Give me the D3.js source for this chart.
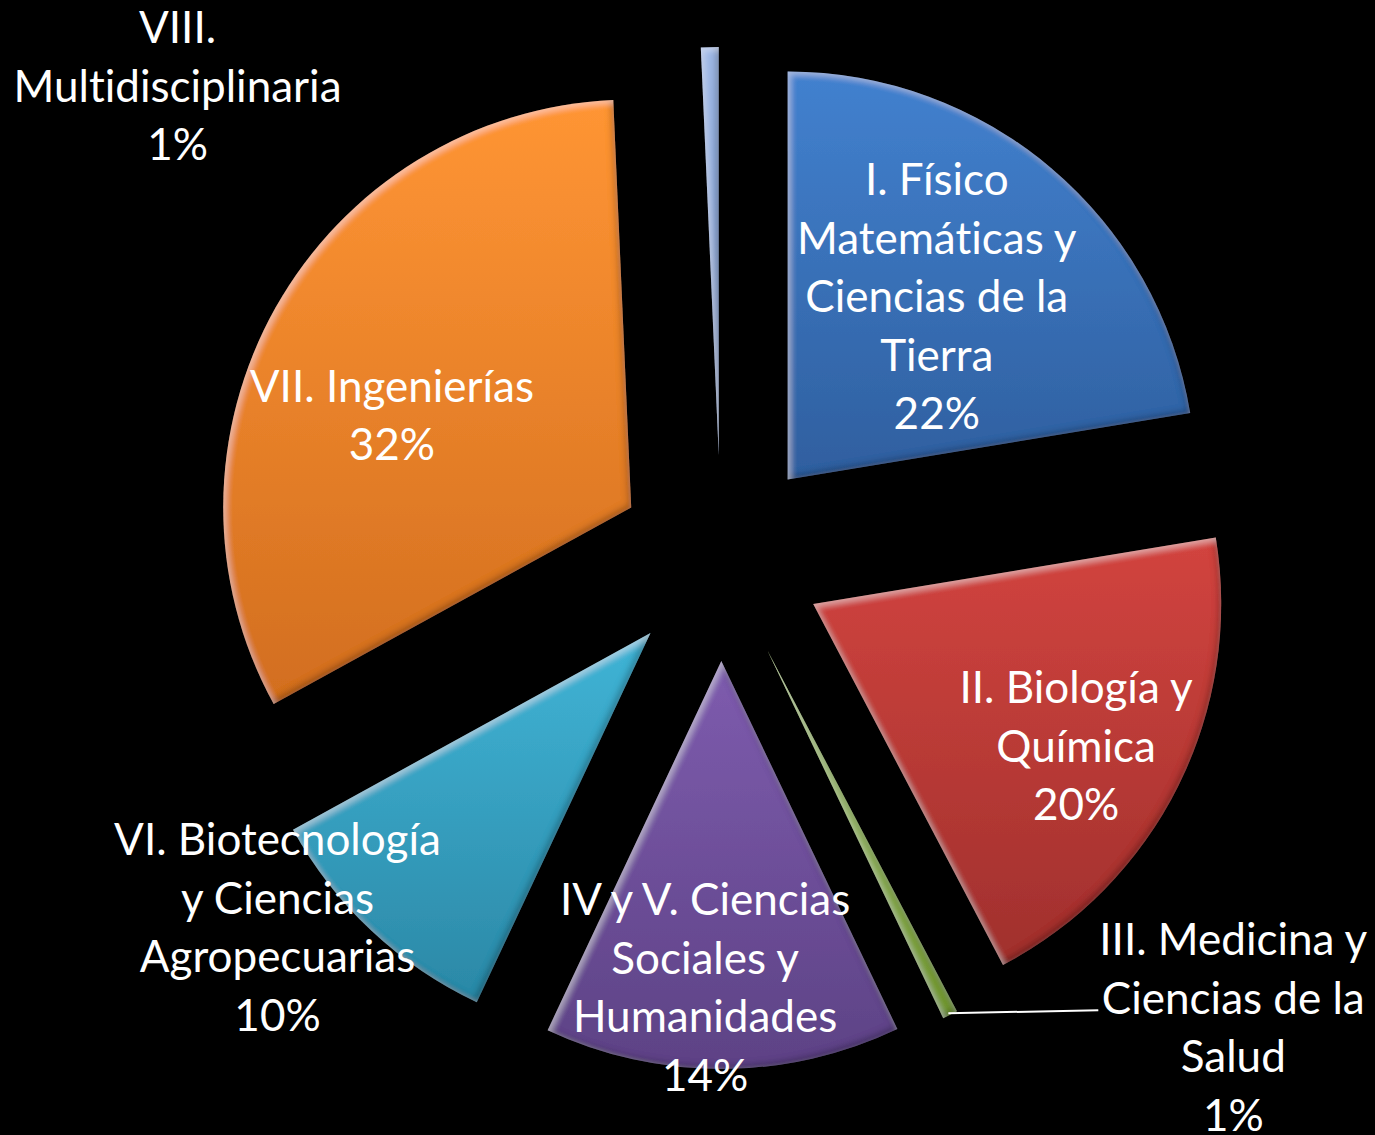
<!DOCTYPE html>
<html lang="es">
<head>
<meta charset="UTF-8">
<title>Distribución por área</title>
<script src="https://d3js.org/d3.v7.min.js"></script>
<style>
  html, body { margin: 0; padding: 0; background: #000; }
  svg { display: block; }
  .lbl { fill: #fff; font-family: Lato, "Open Sans", sans-serif; font-size: 44px; font-variant-ligatures: none; }
</style>
</head>
<body>
<div id="chart"></div>
<script>
// data (percent shares)
const areas = [
  ["I. Físico", "Matemáticas y", "Ciencias de la", "Tierra"],
  ["II. Biología y", "Química"],
  ["III. Medicina y", "Ciencias de la", "Salud"],
  ["IV y V. Ciencias", "Sociales y", "Humanidades"],
  ["VI. Biotecnología", "y Ciencias", "Agropecuarias"],
  ["VII. Ingenierías"],
  ["VIII.", "Multidisciplinaria"]
];
const shares = [22.4, 19.9, 0.6, 14.1, 10.0, 32.3, 0.7];
const shownPct = ["22%", "20%", "1%", "14%", "10%", "32%", "1%"];

// colours: [top, bottom]
const colors = [
  ["#4281cf", "#2f5f9f"],
  ["#d2443f", "#a0302d"],
  ["#9cc44a", "#6f9430"],
  ["#7e5cae", "#5d4285"],
  ["#40b4d6", "#2b88a6"],
  ["#ff9534", "#d26e1f"],
  ["#9fb9e6", "#6f8fc6"]
];
// label shifts from the default in-slice spot
const labelNudge = [[-4, -2], [51, 37], [360, 166], [-17, 90], [-211, 122], [-33, 24], [-536, -132]];

const W = 1375, H = 1135;
const cx = 721, cy = 558, R = 408, explode = 103;
const lineH = 58.5;

const svg = d3.select("#chart").append("svg").attr("width", W).attr("height", H);
svg.append("rect").attr("width", W).attr("height", H).attr("fill", "#000");

const defs = svg.append("defs");
colors.forEach((c, i) => {
  const g = defs.append("linearGradient").attr("id", "grad" + i)
    .attr("x1", 0).attr("y1", 0).attr("x2", 0).attr("y2", 1);
  g.append("stop").attr("offset", "0%").attr("stop-color", c[0]);
  g.append("stop").attr("offset", "100%").attr("stop-color", c[1]);
});

// soft bevel: dark inner edge bottom-right, light inner edge top-left
const f = defs.append("filter").attr("id", "bevel")
  .attr("x", "-10%").attr("y", "-10%").attr("width", "120%").attr("height", "120%");
f.append("feGaussianBlur").attr("in", "SourceAlpha").attr("stdDeviation", 3).attr("result", "blur");
f.append("feOffset").attr("in", "blur").attr("dx", -3).attr("dy", -3).attr("result", "offA");
f.append("feComposite").attr("in", "SourceAlpha").attr("in2", "offA").attr("operator", "out").attr("result", "edgeA");
f.append("feFlood").attr("flood-color", "#000").attr("flood-opacity", 0.5).attr("result", "dark");
f.append("feComposite").attr("in", "dark").attr("in2", "edgeA").attr("operator", "in").attr("result", "shadow");
f.append("feOffset").attr("in", "blur").attr("dx", 3).attr("dy", 3).attr("result", "offB");
f.append("feComposite").attr("in", "SourceAlpha").attr("in2", "offB").attr("operator", "out").attr("result", "edgeB");
f.append("feFlood").attr("flood-color", "#fff").attr("flood-opacity", 0.35).attr("result", "light");
f.append("feComposite").attr("in", "light").attr("in2", "edgeB").attr("operator", "in").attr("result", "hilite");
const fm = f.append("feMerge");
fm.append("feMergeNode").attr("in", "SourceGraphic");
fm.append("feMergeNode").attr("in", "shadow");
fm.append("feMergeNode").attr("in", "hilite");

const pie = d3.pie().sort(null).value(d => d);
const arcs = pie(shares);
const arc = d3.arc().innerRadius(0).outerRadius(R);
const mid = d => (d.startAngle + d.endAngle) / 2;
const shift = (d, k) => [Math.sin(mid(d)) * k, -Math.cos(mid(d)) * k];

const g = svg.append("g").attr("transform", `translate(${cx},${cy})`);

g.selectAll("path.slice").data(arcs).join("path")
  .attr("class", "slice")
  .attr("transform", d => `translate(${shift(d, explode)})`)
  .attr("d", arc)
  .attr("fill", (d, i) => `url(#grad${i})`)
  .attr("filter", "url(#bevel)");

// labels
const labelData = arcs.map((d, i) => {
  const base = shift(d, explode + R * 0.58);
  return {
    x: base[0] + labelNudge[i][0],
    y: base[1] + labelNudge[i][1],
    lines: areas[i].concat([shownPct[i]])
  };
});

// leader line for the thin slice III
{
  const d = arcs[2];
  const tip = shift(d, explode + R - 4);
  const L = labelData[2];
  const lineY = L.y + (1 - (L.lines.length - 1) / 2) * lineH + 12;
  g.append("line")
    .attr("x1", tip[0]).attr("y1", tip[1] + 2)
    .attr("x2", L.x - 135).attr("y2", lineY)
    .attr("stroke", "#fff").attr("stroke-width", 2);
}

labelData.forEach(L => {
  const t = g.append("text").attr("class", "lbl").attr("text-anchor", "middle");
  L.lines.forEach((s, j) => {
    t.append("tspan")
      .attr("x", L.x)
      .attr("y", L.y + (j - (L.lines.length - 1) / 2) * lineH)
      .attr("dy", "0.35em")
      .text(s);
  });
});
</script>
</body>
</html>
